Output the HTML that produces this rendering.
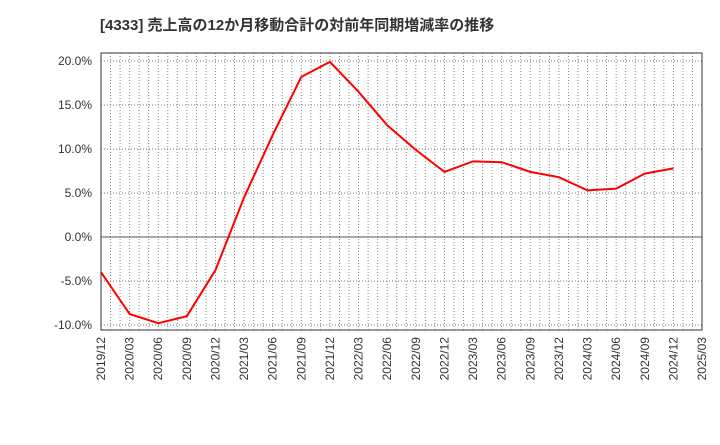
<!DOCTYPE html>
<html><head><meta charset="utf-8"><style>
body{margin:0;background:#fff;font-family:"Liberation Sans","Noto Sans CJK JP",sans-serif;}
</style></head><body>
<svg width="720" height="440" xmlns="http://www.w3.org/2000/svg">
<text x="100" y="30" font-size="15" font-weight="bold" fill="#333" font-family="Liberation Sans, Noto Sans CJK JP, sans-serif">[4333]  売上高の12か月移動合計の対前年同期増減率の推移</text>
<g id="grid"></g>
<g id="yaxis"></g>
<g id="xaxis"></g>
<path id="line" fill="none" stroke="#f00" stroke-width="2"/>
<rect x="101" y="53" width="601" height="277" fill="none" stroke="#333" stroke-width="1"/>
</svg>
<script>
const xLabels=["2019/12","2020/03","2020/06","2020/09","2020/12","2021/03","2021/06","2021/09","2021/12","2022/03","2022/06","2022/09","2022/12","2023/03","2023/06","2023/09","2023/12","2024/03","2024/06","2024/09","2024/12","2025/03"];
const values=[-4.0,-8.75,-9.8,-9.0,-3.75,4.5,11.6,18.2,19.9,16.5,12.7,9.9,7.4,8.6,8.5,7.4,6.8,5.3,5.5,7.2,7.8];
const yTicks=[20,15,10,5,0,-5,-10];
const X0=101,X1=702,Y20=61,Y0=237;
function xs(i){return X0+(X1-X0)*i/(xLabels.length-1);}
function ys(v){return Y0-(Y0-Y20)*v/20;}
const NS="http://www.w3.org/2000/svg";
const grid=document.getElementById('grid'),ya=document.getElementById('yaxis'),xa=document.getElementById('xaxis');
for(let m=1;m<(xLabels.length-1)*3;m++){
 const x=X0+(X1-X0)*m/((xLabels.length-1)*3);
 const l=document.createElementNS(NS,'line');
 
 
 l.setAttribute('x1',x);l.setAttribute('x2',x);l.setAttribute('y1',53);l.setAttribute('y2',330);
 l.setAttribute('stroke','#888');l.setAttribute('stroke-dasharray','1,2');
 grid.appendChild(l);
}
yTicks.forEach(v=>{
 const y=ys(v);
 const l=document.createElementNS(NS,'line');
 
 
 l.setAttribute('x1',X0);l.setAttribute('x2',X1);l.setAttribute('y1',y);l.setAttribute('y2',y);
 l.setAttribute('stroke',v===0?'#555':'#777');
 if(v!==0)l.setAttribute('stroke-dasharray','1,2');
 grid.appendChild(l);
 const t=document.createElementNS(NS,'text');
 
 
 t.setAttribute('x',92);t.setAttribute('y',y+4);t.setAttribute('text-anchor','end');
 t.setAttribute('font-size','12');t.setAttribute('fill','#333');
 t.textContent=v.toFixed(1)+'%';
 ya.appendChild(t);
});
xLabels.forEach((s,i)=>{
 const x=xs(i);
 const t=document.createElementNS(NS,'text');
 
 
 t.setAttribute('transform','translate('+(x+4)+',337) rotate(-90)');
 t.setAttribute('text-anchor','end');t.setAttribute('font-size','12');t.setAttribute('fill','#333');
 t.textContent=s;
 xa.appendChild(t);
});
document.getElementById('line').setAttribute('d',values.map((v,i)=>(i?'L':'M')+xs(i)+','+ys(v)).join(''));
</script>
</body></html>
